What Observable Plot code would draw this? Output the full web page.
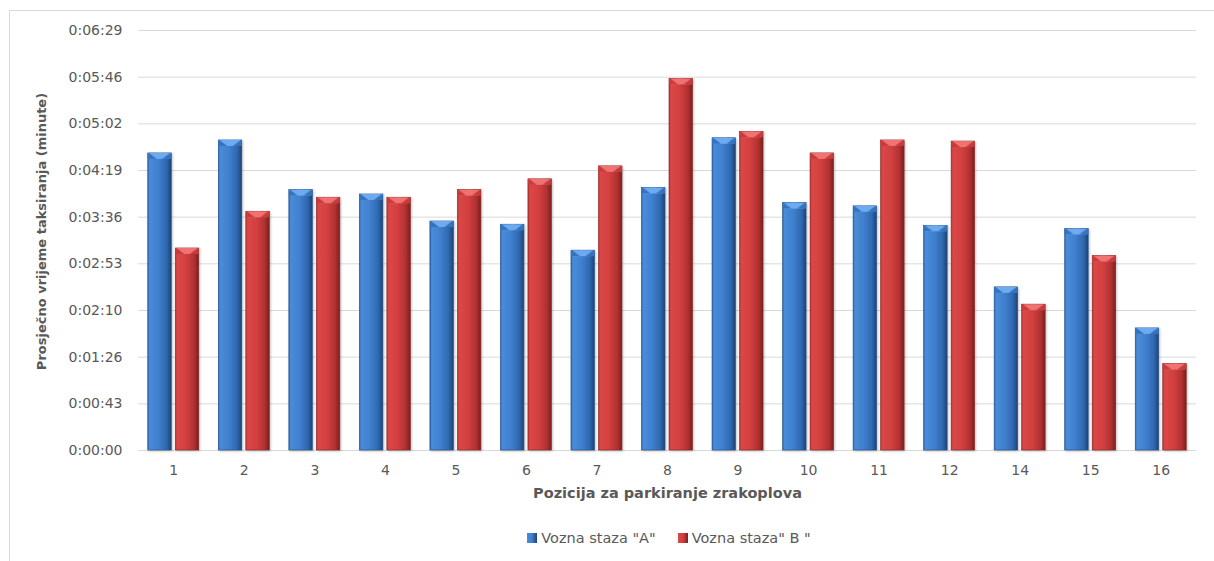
<!DOCTYPE html>
<html>
<head>
<meta charset="utf-8">
<script src="https://cdn.jsdelivr.net/npm/d3@7"></script>
<script src="https://cdn.jsdelivr.net/npm/@observablehq/plot@0.6"></script>
<style>
  html, body { margin: 0; padding: 0; background: #fff; overflow: hidden; }
  body { position: relative; width: 1214px; height: 561px; font-family: "DejaVu Sans", sans-serif; }
  #frame { position: absolute; left: 9px; top: 10px; width: 1300px; height: 700px;
           border-left: 1px solid #d9d9d9; border-top: 1px solid #d9d9d9; }
  #chart { position: absolute; left: 0; top: 0; }
  #legend { position: absolute; left: 0; top: 530px; width: 1214px; text-align: center;
            font-size: 14.5px; color: #595959; padding-left: 124px; box-sizing: border-box; }
  #legend span.item { display: inline-block; margin: 0 11px; }
  #legend span.sw { display: inline-block; width: 10px; height: 10px; margin-right: 4px; vertical-align: 0px; }
</style>
</head>
<body>
<div id="frame"></div>
<div id="chart"></div>
<div id="legend"></div>
<script>
// Categories (parking positions)
const categories = ["1","2","3","4","5","6","7","8","9","10","11","12","14","15","16"];
// Average taxi time in seconds
const seriesA = [275, 287, 241, 237, 212, 209, 185, 243, 289, 229, 226, 208, 151, 205, 113];
const seriesB = [187, 221, 234, 234, 241, 251, 263, 344, 295, 275, 287, 286, 135, 180, 80];
const seriesNames = ['Vozna staza "A"', 'Vozna staza" B "'];
// y ticks (seconds): steps of 0.0005 day
const yTicks = [0, 43.2, 86.4, 129.6, 172.8, 216, 259.2, 302.4, 345.6, 388.8];
const xTitle = "Pozicija za parkiranje zrakoplova";
const yTitle = "Prosječno vrijeme taksiranja (minute)";

const dataA = categories.map((c, i) => ({cat: c, value: seriesA[i]}));
const dataB = categories.map((c, i) => ({cat: c, value: seriesB[i]}));

function fmt(s) {
  const t = Math.round(s);
  const h = Math.floor(t / 3600), m = Math.floor((t % 3600) / 60), sec = t % 60;
  return `${h}:${String(m).padStart(2, "0")}:${String(sec).padStart(2, "0")}`;
}

const gray = "#595959";
const chart = Plot.plot({
  width: 1214,
  height: 510,
  marginLeft: 138,
  marginRight: 18,
  marginTop: 30,
  marginBottom: 60,
  style: {fontFamily: "DejaVu Sans, sans-serif", fontSize: "14px", color: gray, background: "transparent"},
  x: {domain: categories, paddingInner: 0.277, paddingOuter: 0.1385, round: false, label: null},
  y: {domain: [0, 388.8], label: null},
  marks: [
    Plot.ruleY(yTicks, {stroke: "#d9d9d9", strokeWidth: 1}),
    Plot.axisY({ticks: yTicks, tickFormat: fmt, tickSize: 0, tickPadding: 16, label: null, fill: gray}),
    Plot.axisX({tickSize: 0, tickPadding: 15, label: null, fill: gray}),
    Plot.barY(dataA, {x: "cat", y: "value", fill: "url(#gradA)", insetRight: 27.5, stroke: "#24528c", strokeWidth: 0.6}),
    Plot.barY(dataB, {x: "cat", y: "value", fill: "url(#gradB)", insetLeft: 27.5, stroke: "#8a2525", strokeWidth: 0.6}),
    Plot.barY(dataA, {x: "cat", y1: "value", y2: "value", insetBottom: -6, fill: "url(#capA)", insetRight: 27.5}),
    Plot.barY(dataB, {x: "cat", y1: "value", y2: "value", insetBottom: -6, fill: "url(#capB)", insetLeft: 27.5}),
    Plot.text([xTitle], {frameAnchor: "bottom", dy: 47, fontWeight: "bold", fontSize: 14.5, fill: gray}),
    Plot.text([yTitle], {frameAnchor: "left", textAnchor: "middle", dx: -97, dy: -9, rotate: -90, fontWeight: "bold", fontSize: 13, fill: gray})
  ]
});

const defs = `
<defs>
  <linearGradient id="gradA" x1="0" x2="1" y1="0" y2="0">
    <stop offset="0" stop-color="#2e64a8"/>
    <stop offset="0.08" stop-color="#4a8cd9"/>
    <stop offset="0.45" stop-color="#3f80cf"/>
    <stop offset="0.8" stop-color="#2f68af"/>
    <stop offset="1" stop-color="#1d4274"/>
  </linearGradient>
  <linearGradient id="gradB" x1="0" x2="1" y1="0" y2="0">
    <stop offset="0" stop-color="#b53333"/>
    <stop offset="0.08" stop-color="#db4747"/>
    <stop offset="0.45" stop-color="#d34040"/>
    <stop offset="0.8" stop-color="#b23131"/>
    <stop offset="1" stop-color="#7a1f1f"/>
  </linearGradient>
  <pattern id="capA" patternUnits="objectBoundingBox" patternContentUnits="objectBoundingBox" width="1" height="1">
    <rect width="1" height="1" fill="#3573bf"/>
    <polygon points="0.05,0 0.95,0 0.62,1 0.38,1" fill="#6eaaf0"/>
  </pattern>
  <pattern id="capB" patternUnits="objectBoundingBox" patternContentUnits="objectBoundingBox" width="1" height="1">
    <rect width="1" height="1" fill="#c63b3b"/>
    <polygon points="0.05,0 0.95,0 0.62,1 0.38,1" fill="#f07272"/>
  </pattern>
</defs>`;
chart.insertAdjacentHTML("afterbegin", defs);
chart.querySelectorAll('g[aria-label="bar"]').forEach((g, i) => {
  if (i < 2) g.style.filter = "drop-shadow(1px 1px 1px rgba(0,0,0,0.25))";
});
document.getElementById("chart").appendChild(chart);

const legend = document.getElementById("legend");
const swFills = ["linear-gradient(to right, #4a8cd9, #3f80cf 50%, #1d4274)", "linear-gradient(to right, #db4747, #d34040 50%, #7a1f1f)"];
seriesNames.forEach((name, i) => {
  const item = document.createElement("span");
  item.className = "item";
  const sw = document.createElement("span");
  sw.className = "sw";
  sw.style.background = swFills[i];
  item.appendChild(sw);
  item.appendChild(document.createTextNode(name));
  legend.appendChild(item);
});
</script>
</body>
</html>
